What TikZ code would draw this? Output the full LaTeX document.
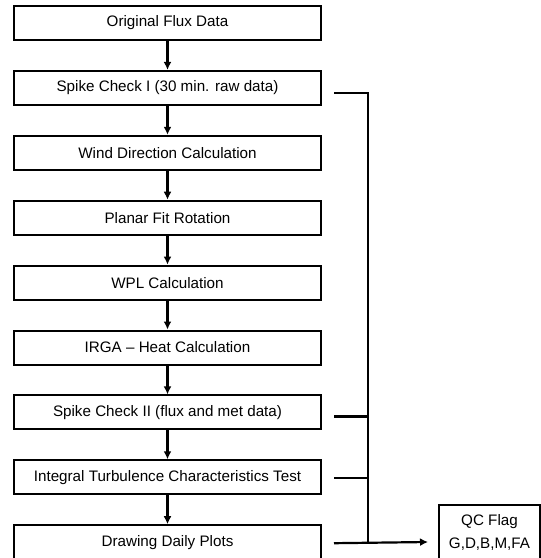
\documentclass[tikz,border=0pt]{standalone}
\usepackage{fontspec}
\setmainfont{Liberation Sans}
\usepackage{tikz}
\usetikzlibrary{arrows.meta}

\begin{document}
\begin{tikzpicture}[node distance=64.9pt]
        \tikzstyle{process} = [rectangle, minimum width=307pt, minimum height=34pt, text centered, draw=black, line width=2pt, font=\fontsize{15.2}{23}\selectfont]
        \tikzstyle{flag} = [rectangle, minimum width=101pt, minimum height=54pt, align=center, draw=black, line width=2pt, font=\fontsize{15.2}{23}\selectfont]
        \tikzstyle{arrow} = [draw=black, line width=2.2pt, -{Latex[length=8pt,width=8pt]}]
        \tikzstyle{link} = [draw=black, line width=2.2pt]
        \useasboundingbox (0,0) rectangle (541pt,-558pt);
        
        \node (original) [process] at (167.5pt,-23pt) {Original Flux Data};
        \node (spike1) [process, below of=original] {Spike Check I (30 min. raw data)};
        \node (wind) [process, below of=spike1] {Wind Direction Calculation};
        \node (planar) [process, below of=wind] {Planar Fit Rotation};
        \node (wpl) [process, below of=planar] {WPL Calculation};
        \node (irga) [process, below of=wpl] {IRGA -- Heat Calculation};
        \node (spike2) [process, below of=irga] {Spike Check II (flux and met data)};
        \node (itc) [process, below of=spike2] {Integral Turbulence Characteristics Test};
        \node (plots) [process, below of=itc] {Drawing Daily Plots};
        \node (qc) [flag] at (489.5pt,-532pt) {QC Flag\\G,D,B,M,FA};
        \coordinate (qcin) at ([xshift=-10pt,yshift=-10pt]qc.west);
        
        \draw [arrow] (original) -- (spike1);
        \draw [arrow] (spike1) -- (wind);
        \draw [arrow] (wind) -- (planar);
        \draw [arrow] (planar) -- (wpl);
        \draw [arrow] (wpl) -- (irga);
        \draw [arrow] (irga) -- (spike2);
        \draw [arrow] (spike2) -- (itc);
        \draw [arrow] (itc) -- (plots);
        
        \draw [link] ([xshift=12pt,yshift=-5pt]spike1.east) -| ([xshift=46pt,yshift=-1pt]plots.east);
        \draw [link] ([xshift=12pt,yshift=-4pt]spike2.east) -- ++(34pt,0);
        \draw [link] ([xshift=12pt,yshift=-1pt]itc.east) -- ++(34pt,0);
        \draw [arrow] ([xshift=12pt,yshift=-1pt]plots.east) -- (qcin);
    \end{tikzpicture}
\end{document}
